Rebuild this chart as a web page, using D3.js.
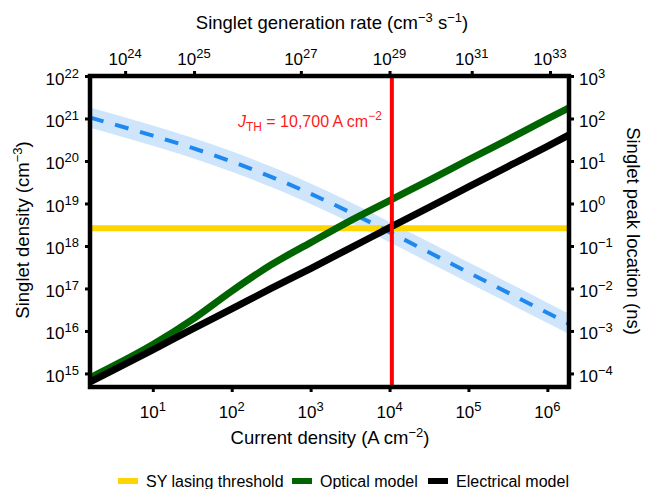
<!DOCTYPE html>
<html>
<head>
<meta charset="utf-8">
<script src="https://cdn.jsdelivr.net/npm/d3@7"></script>
<style>
  body { margin: 0; background: white; }
  text { font-family: "Liberation Sans", Arial, sans-serif; }
</style>
</head>
<body>
<div class="chart"></div>
<script>
// current density (A cm^-2) sample points
let currentDensity = [1.6, 3.16, 10, 31.6, 100, 316, 1000, 3162, 1e4, 3.16e4, 1e5, 3.16e5, 1e6, 1.88e6];
// singlet density (cm^-3)
let optical = [7.9e14, 1.5e15, 4.8e15, 1.85e16, 8.7e16, 3.6e17, 1.2e18, 3.9e18, 1.17e19, 3.5e19, 1.07e20, 3.2e20, 9.8e20, 1.78e21];
let electrical = [6.3e14, 1.2e15, 3.6e15, 1.1e16, 3.3e16, 1.0e17, 2.95e17, 8.9e17, 2.7e18, 8.1e18, 2.45e19, 7.4e19, 2.2e20, 4.1e20];
// singlet peak location (ns), with its shaded range
let peakLocation = [105, 73.6, 39.5, 20.3, 9.7, 4.24, 1.69, 0.62, 0.212, 0.0711, 0.0238, 0.00798, 0.00267, 0.00147];
let peakLow = [60.4, 42.3, 22.7, 11.7, 5.58, 2.44, 0.97, 0.357, 0.122, 0.0409, 0.0137, 0.00459, 0.00154, 0.000846];
let peakHigh = [182, 128, 68.7, 35.3, 16.9, 7.37, 2.94, 1.08, 0.368, 0.124, 0.0414, 0.0139, 0.00464, 0.00255];

let lasingThreshold = 2.6e18;
let jThreshold = 10700;

// tick labels
let bottomTicks = [1e1, 1e2, 1e3, 1e4, 1e5, 1e6];
let leftTicks = [1e15, 1e16, 1e17, 1e18, 1e19, 1e20, 1e21, 1e22];
let rightTicks = [1e-4, 1e-3, 1e-2, 1e-1, 1e0, 1e1, 1e2, 1e3];
// top axis: generation rate exponent and the current density it sits at
let topTickExp = [24, 25, 27, 29, 31, 33];
let topTickJ = [4.46, 33.3, 752, 1.0e4, 1.1e5, 1.08e6];

let legendNames = ["SY lasing threshold", "Optical model", "Electrical model"];
let legendColors = ["#ffd500", "#006400", "#000000"];

let frame = { left: 90, right: 569, top: 76, bottom: 387 };

let svg = d3
    .select(".chart")
    .append("svg")
    .attr("width", 646)
    .attr("height", 489)
    .style("background-color", "white");

let x = d3.scaleLog().domain([1.6, 1.88e6]).range([frame.left, frame.right]);
let yL = d3.scaleLog().domain([4.8e14, 1e22]).range([frame.bottom, frame.top]);
let yR = d3.scaleLog().domain([4.8e-5, 1e3]).range([frame.bottom, frame.top]);

let rows = currentDensity.map(function (j, i) {
    return { j: j, opt: optical[i], ele: electrical[i], peak: peakLocation[i], lo: peakLow[i], hi: peakHigh[i] };
});

svg.append("clipPath").attr("id", "plotclip")
    .append("rect")
    .attr("x", frame.left).attr("y", frame.top)
    .attr("width", frame.right - frame.left).attr("height", frame.bottom - frame.top);

let plot = svg.append("g").attr("clip-path", "url(#plotclip)");

// shaded band for peak location
plot.append("path")
    .datum(rows)
    .attr("fill", "#cfe5fb")
    .attr("d", d3.area()
        .curve(d3.curveMonotoneX)
        .x(function (d) { return x(d.j); })
        .y0(function (d) { return yR(d.lo); })
        .y1(function (d) { return yR(d.hi); }));

// lasing threshold
plot.append("line")
    .attr("x1", frame.left).attr("x2", frame.right)
    .attr("y1", yL(lasingThreshold)).attr("y2", yL(lasingThreshold))
    .attr("stroke", "#ffd500")
    .attr("stroke-width", 6);

plot.append("path")
    .datum(rows)
    .attr("fill", "none")
    .attr("stroke", "#1e88ee")
    .attr("stroke-width", 4)
    .attr("stroke-dasharray", "14,12")
    .attr("d", d3.line()
        .curve(d3.curveMonotoneX)
        .x(function (d) { return x(d.j); })
        .y(function (d) { return yR(d.peak); }));

plot.append("path")
    .datum(rows)
    .attr("fill", "none")
    .attr("stroke", "#006400")
    .attr("stroke-width", 7)
    .attr("d", d3.line()
        .curve(d3.curveMonotoneX)
        .x(function (d) { return x(d.j); })
        .y(function (d) { return yL(d.opt); }));

plot.append("path")
    .datum(rows)
    .attr("fill", "none")
    .attr("stroke", "#000000")
    .attr("stroke-width", 7)
    .attr("d", d3.line()
        .curve(d3.curveMonotoneX)
        .x(function (d) { return x(d.j); })
        .y(function (d) { return yL(d.ele); }));

// threshold current density
plot.append("line")
    .attr("x1", x(jThreshold)).attr("x2", x(jThreshold))
    .attr("y1", frame.top).attr("y2", frame.bottom)
    .attr("stroke", "#ff0000")
    .attr("stroke-width", 4);

let jLabel = svg.append("text")
    .attr("x", x(jThreshold) - 10)
    .attr("y", 127)
    .attr("text-anchor", "end")
    .attr("fill", "#ff1a1a")
    .style("font-size", "16px");
jLabel.append("tspan").style("font-style", "italic").text("J");
jLabel.append("tspan").attr("dy", 4).style("font-size", "12px").text("TH");
jLabel.append("tspan").attr("dy", -4).text(" = 10,700 A cm");
jLabel.append("tspan").attr("dy", -7).style("font-size", "12px").text("\u22122");

// axes (ticks only, labels drawn below with superscripts)
svg.append("g")
    .attr("transform", "translate(0," + frame.bottom + ")")
    .call(d3.axisBottom(x).tickValues(bottomTicks).tickSize(5).tickFormat(""));
svg.append("g")
    .attr("transform", "translate(0," + frame.top + ")")
    .call(d3.axisTop(x).tickValues(topTickJ).tickSize(5).tickFormat(""));
svg.append("g")
    .attr("transform", "translate(" + frame.left + ",0)")
    .call(d3.axisLeft(yL).tickValues(leftTicks).tickSize(5).tickFormat(""));
svg.append("g")
    .attr("transform", "translate(" + frame.right + ",0)")
    .call(d3.axisRight(yR).tickValues(rightTicks).tickSize(5).tickFormat(""));

svg.selectAll(".domain").remove();
svg.selectAll(".tick line").attr("stroke", "#000").attr("stroke-width", 3);

svg.append("rect")
    .attr("x", frame.left).attr("y", frame.top)
    .attr("width", frame.right - frame.left).attr("height", frame.bottom - frame.top)
    .attr("fill", "none")
    .attr("stroke", "#000")
    .attr("stroke-width", 4.5);

function powLabel(sel, exp) {
    sel.append("tspan").text("10");
    sel.append("tspan").attr("dy", -7).style("font-size", "13px").text(exp);
}

function expText(v) {
    let e = Math.round(Math.log10(v));
    return e < 0 ? "\u2212" + (-e) : String(e);
}

svg.append("g").selectAll("text")
    .data(bottomTicks).enter()
    .append("text")
    .attr("x", function (d) { return x(d); })
    .attr("y", 418)
    .attr("text-anchor", "middle")
    .style("font-size", "17px")
    .each(function (d) { powLabel(d3.select(this), expText(d)); });

svg.append("g").selectAll("text")
    .data(topTickJ).enter()
    .append("text")
    .attr("x", function (d) { return x(d); })
    .attr("y", 65)
    .attr("text-anchor", "middle")
    .style("font-size", "17px")
    .each(function (d, i) { powLabel(d3.select(this), String(topTickExp[i])); });

svg.append("g").selectAll("text")
    .data(leftTicks).enter()
    .append("text")
    .attr("x", 79)
    .attr("y", function (d) { return yL(d) + 8.5; })
    .attr("text-anchor", "end")
    .style("font-size", "17px")
    .each(function (d) { powLabel(d3.select(this), expText(d)); });

svg.append("g").selectAll("text")
    .data(rightTicks).enter()
    .append("text")
    .attr("x", 579)
    .attr("y", function (d) { return yR(d) + 8.5; })
    .attr("text-anchor", "start")
    .style("font-size", "17px")
    .each(function (d) { powLabel(d3.select(this), expText(d)); });

// axis titles
let topTitle = svg.append("text")
    .attr("x", 332).attr("y", 29)
    .attr("text-anchor", "middle")
    .style("font-size", "18.5px");
topTitle.append("tspan").text("Singlet generation rate (cm");
topTitle.append("tspan").attr("dy", -7).style("font-size", "13px").text("\u22123");
topTitle.append("tspan").attr("dy", 7).text(" s");
topTitle.append("tspan").attr("dy", -7).style("font-size", "13px").text("\u22121");
topTitle.append("tspan").attr("dy", 7).text(")");

let bottomTitle = svg.append("text")
    .attr("x", 330).attr("y", 444)
    .attr("text-anchor", "middle")
    .style("font-size", "18.5px");
bottomTitle.append("tspan").text("Current density (A cm");
bottomTitle.append("tspan").attr("dy", -7).style("font-size", "13px").text("\u22122");
bottomTitle.append("tspan").attr("dy", 7).text(")");

let leftTitle = svg.append("text")
    .attr("transform", "translate(29,230) rotate(-90)")
    .attr("text-anchor", "middle")
    .style("font-size", "18.5px");
leftTitle.append("tspan").text("Singlet density (cm");
leftTitle.append("tspan").attr("dy", -7).style("font-size", "13px").text("\u22123");
leftTitle.append("tspan").attr("dy", 7).text(")");

svg.append("text")
    .attr("transform", "translate(627,231) rotate(90)")
    .attr("text-anchor", "middle")
    .style("font-size", "18.5px")
    .text("Singlet peak location (ns)");

// legend
let legendX = [118, 292, 428];
let legend = svg.append("g")
    .selectAll("g")
    .data(legendNames)
    .enter()
    .append("g")
    .attr("transform", function (d, i) { return "translate(" + legendX[i] + ",481)"; });

legend.append("rect")
    .attr("x", 0).attr("y", -3)
    .attr("width", 20).attr("height", 6)
    .attr("fill", function (d, i) { return legendColors[i]; });

legend.append("text")
    .attr("x", 28).attr("y", 6)
    .style("font-size", "16px")
    .text(function (d) { return d; });
</script>
</body>
</html>
